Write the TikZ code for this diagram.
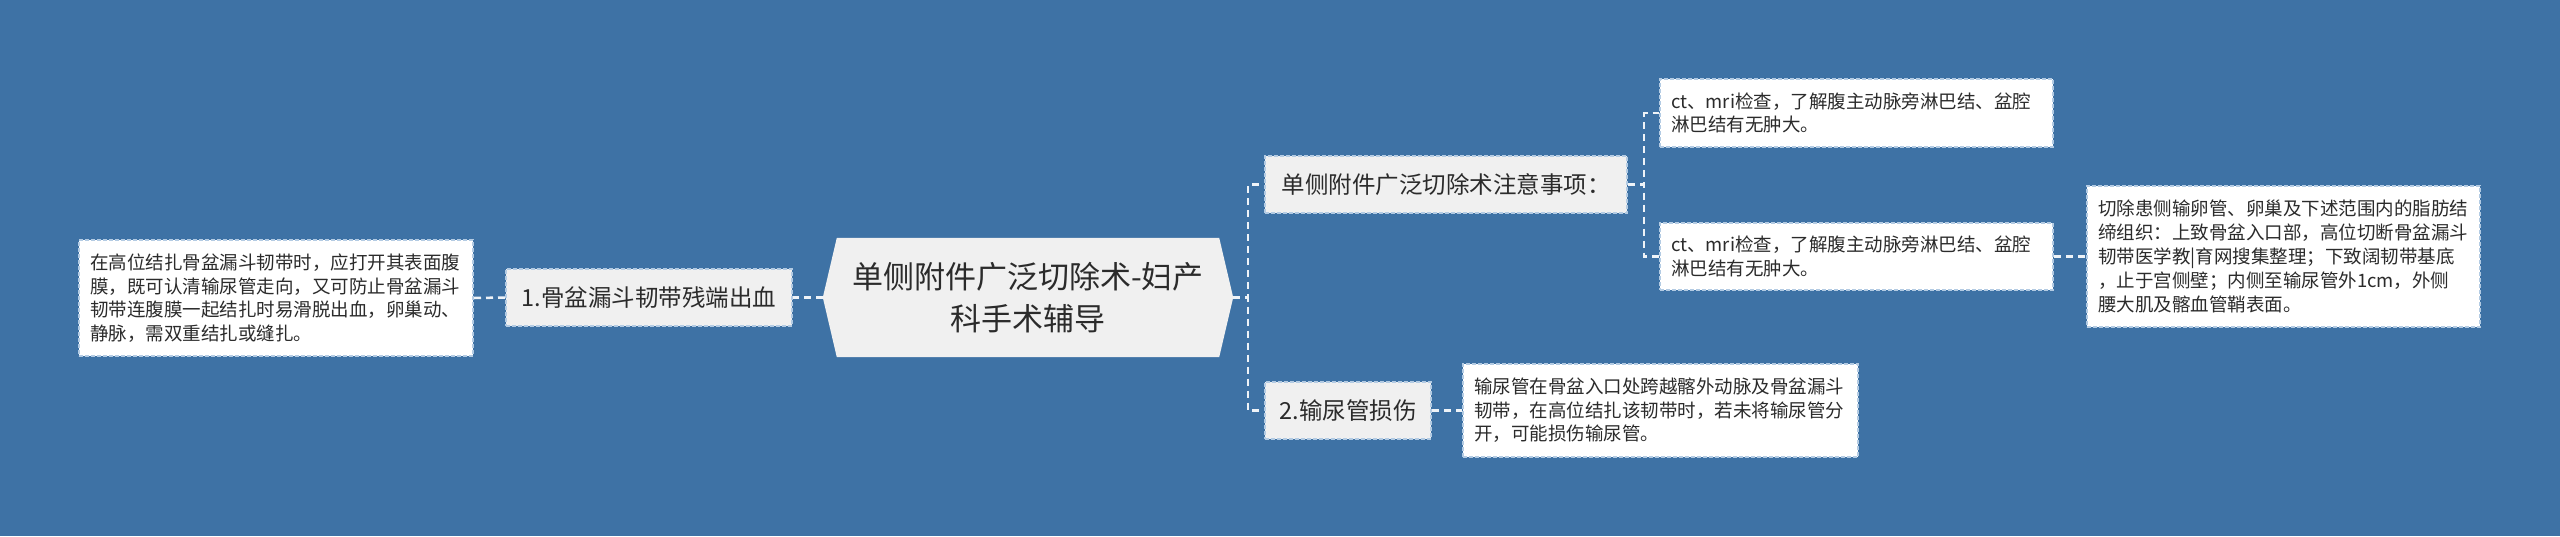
\documentclass[tikz,border=0pt]{standalone}
\usepackage{fontspec}
\setmainfont{Noto Sans CJK SC}
\definecolor{bgblue}{HTML}{3E72A5}
\definecolor{boxgray}{HTML}{F0F0F0}
\definecolor{edgeblue}{HTML}{B3CBE3}
\definecolor{txt}{HTML}{2B2B2B}
\definecolor{linkc}{HTML}{EEF3F8}
\pgfdeclarelayer{back}
\pgfsetlayers{back,main}
\tikzset{
  branch/.style={draw=edgeblue, fill=boxgray, dash pattern=on 4pt off 2pt, line width=2pt,
    text=txt, inner sep=0pt, font=\fontsize{23.5}{28}\selectfont},
  leaf/.style={draw=edgeblue, fill=white, dash pattern=on 4pt off 2pt, line width=2pt,
    text=txt, inner xsep=11pt, inner ysep=0pt, align=left, font=\fontsize{18.5}{23.5}\selectfont},
  link/.style={draw=linkc, line width=2.5pt, dash pattern=on 7pt off 5pt},
}
\begin{document}
\begin{tikzpicture}[x=1pt,y=-1pt]
\begin{pgfonlayer}{back}
\fill[bgblue] (0,0) rectangle (2560,536);
\end{pgfonlayer}
\useasboundingbox (0,0) rectangle (2560,536);

% central
\node[minimum width=410pt, minimum height=119pt, inner sep=0pt, align=center, text=txt,
  font=\fontsize{31}{42}\selectfont] (c) at (1028,297.5) {单侧附件广泛切除术-妇产\\科手术辅导};
\begin{pgfonlayer}{back}
\fill[boxgray] (c.west) -- ([xshift=14pt]c.north west) -- ([xshift=-14pt]c.north east) -- (c.east)
  -- ([xshift=-14pt]c.south east) -- ([xshift=14pt]c.south west) -- cycle;
\end{pgfonlayer}

% branches
\node[branch, minimum width=286pt, minimum height=57pt] (b1) at (649,297.5) {1.骨盆漏斗韧带残端出血};
\node[branch, minimum width=362pt, minimum height=57pt] (b2) at (1446,184.5) {单侧附件广泛切除术注意事项：};
\node[branch, minimum width=166pt, minimum height=57pt] (b3) at (1348,410.5) {2.输尿管损伤};

% leaves
\node[leaf, text width=372pt, minimum height=116pt] (l1) at (276,298)
  {在高位结扎骨盆漏斗韧带时，应打开其表面腹\\膜，既可认清输尿管走向，又可防止骨盆漏斗\\韧带连腹膜一起结扎时易滑脱出血，卵巢动、\\静脉，需双重结扎或缝扎。};
\node[leaf, text width=371pt, minimum height=68pt] (ct1) at (1856.5,113)
  {ct、mri检查，了解腹主动脉旁淋巴结、盆腔\\淋巴结有无肿大。};
\node[leaf, text width=371pt, minimum height=67pt] (ct2) at (1856.5,256.5)
  {ct、mri检查，了解腹主动脉旁淋巴结、盆腔\\淋巴结有无肿大。};
\node[leaf, text width=371pt, minimum height=141pt, font=\fontsize{18.5}{24}\selectfont] (big) at (2283.5,256.5)
  {切除患侧输卵管、卵巢及下述范围内的脂肪结\\缔组织：上致骨盆入口部，高位切断骨盆漏斗\\韧带医学教|育网搜集整理；下致阔韧带基底\\，止于宫侧壁；内侧至输尿管外1cm，外侧\\腰大肌及髂血管鞘表面。};
\node[leaf, text width=373pt, minimum height=93pt] (l2) at (1660.5,410.5)
  {输尿管在骨盆入口处跨越髂外动脉及骨盆漏斗\\韧带，在高位结扎该韧带时，若未将输尿管分\\开，可能损伤输尿管。};

% connectors
\begin{pgfonlayer}{back}
\draw[link] (c.west) -- (b1.east);
\draw[link] (b1.west) -- (l1.east);
\draw[link] (c.east) -- ++(15,0) |- (b2.west);
\draw[link] (c.east) -- ++(15,0) |- (b3.west);
\draw[link] (b2.east) -- ++(16,0) |- (ct1.west);
\draw[link] (b2.east) -- ++(16,0) |- (ct2.west);
\draw[link] (ct2.east) -- (big.west);
\draw[link] (b3.east) -- (l2.west);
\end{pgfonlayer}
\end{tikzpicture}
\end{document}
